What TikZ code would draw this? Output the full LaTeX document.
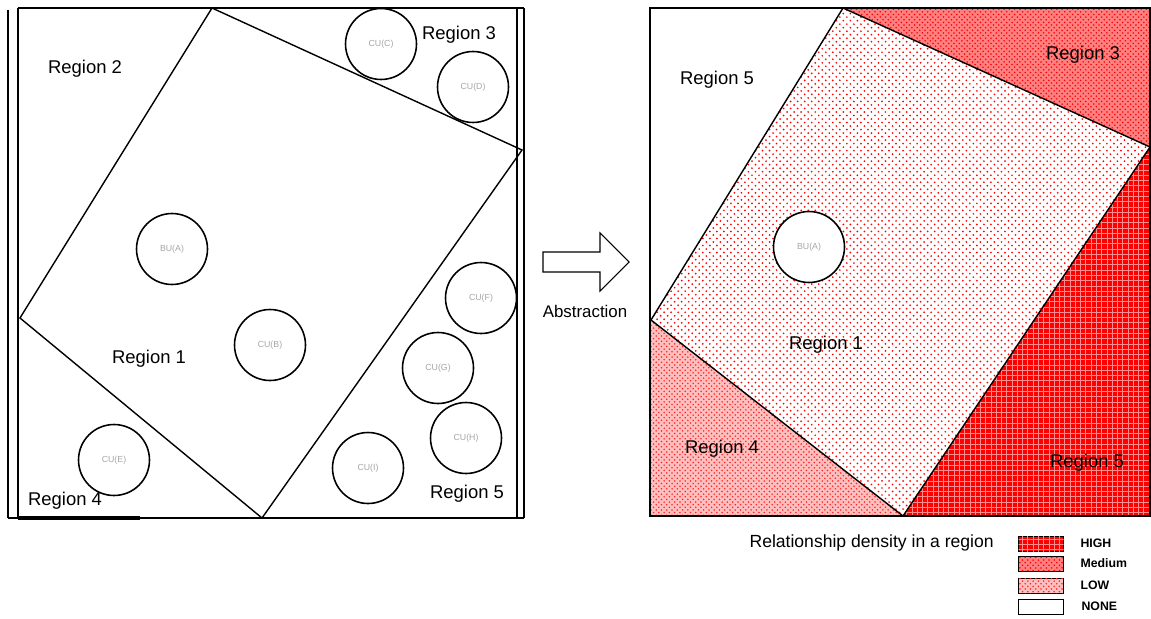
\documentclass[tikz,border=0pt]{standalone}
\usepackage{fontspec}
\setmainfont{Liberation Sans}
\usetikzlibrary{patterns,patterns.meta}

% loose staggered dots for the central square
\pgfdeclarepattern{
  name=loosedots,
  type=uncolored,
  bottom left={\pgfpoint{-1pt}{-1pt}},
  top right={\pgfpoint{5pt}{5pt}},
  tile size={\pgfpoint{4pt}{4pt}},
  code={
    \pgfpathcircle{\pgfpoint{0pt}{0pt}}{0.55pt}
    \pgfpathcircle{\pgfpoint{2pt}{2pt}}{0.55pt}
    \pgfusepath{fill}
  }
}

\tikzset{
  unit/.style={circle,draw,line width=0.9pt,minimum size=1.42cm,inner sep=0pt,
    font=\fontsize{5}{6}\selectfont,text=black!35},
  region/.style={font=\fontsize{10.5}{12}\selectfont},
  key/.style={font=\bfseries\fontsize{7}{8}\selectfont,anchor=west},
  keybox/.style={draw,line width=1.1pt,minimum width=0.9cm,minimum height=0.3cm,inner sep=0pt},
  high/.style={fill=red,postaction={pattern=grid,pattern color=white!55!red}},
  medium/.style={fill=red!50,postaction={pattern=crosshatch dots,pattern color=red}},
  low/.style={fill=red!25,postaction={pattern=crosshatch dots,pattern color=red!85}},
  sparse/.style={pattern=loosedots,pattern color=red},
}

\begin{document}
\begin{tikzpicture}[x=0.02cm,y=-0.02cm,line width=0.8pt]
  \useasboundingbox (0,0) rectangle (1151,618);

  % left panel: frame
  \draw (8,10) -- (8,518);
  \draw (18,8) -- (18,518);
  \draw (18,8) -- (524,8);
  \draw (517,8) -- (517,518);
  \draw (524,8) -- (524,518);
  \draw (8,518) -- (524,518);
  \draw[line width=1.8pt] (18,518) -- (140,518);

  % left panel: rotated square
  \coordinate (lt) at (212,8);
  \coordinate (lr) at (522,150);
  \coordinate (lb) at (262,518);
  \coordinate (ll) at (20,318);
  \draw (lt) -- (lr) -- (lb) -- (ll) -- cycle;

  \node[unit] (uc) at (381,44) {CU(C)};
  \node[unit] (ud) at (473,87) {CU(D)};
  \node[unit] (ua) at (172,249) {BU(A)};
  \node[unit] (ub) at (270,345) {CU(B)};
  \node[unit] (uf) at (481,298) {CU(F)};
  \node[unit] (ug) at (438,368) {CU(G)};
  \node[unit] (uh) at (466,438) {CU(H)};
  \node[unit] (ui) at (368,468) {CU(I)};
  \node[unit] (ue) at (114,460) {CU(E)};

  \node[region] (l2) at (85,69) {Region 2};
  \node[region] (l3) at (459,35) {Region 3};
  \node[region] (l1) at (149,359) {Region 1};
  \node[region] (l4) at (65,501) {Region 4};
  \node[region] (l5) at (467,494) {Region 5};

  % block arrow
  \draw[line width=0.6pt] (543,252) -- (600,252) -- (600,233) -- (629,262)
    -- (600,291) -- (600,272) -- (543,272) -- cycle;
  \node[font=\fontsize{9.6}{11}\selectfont] (abs) at (585,311) {Abstraction};

  % right panel: regions
  \coordinate (rt) at (843,8);
  \coordinate (rr) at (1150,147);
  \coordinate (rb) at (903,516);
  \coordinate (rl) at (651,320);
  \path[medium] (rt) -- (1150,8) -- (rr) -- cycle;
  \path[high] (rr) -- (1150,516) -- (rb) -- cycle;
  \path[low] (rl) -- (rb) -- (651,516) -- cycle;
  \path[sparse] (rt) -- (rr) -- (rb) -- (rl) -- cycle;
  \draw (rt) -- (rr) -- (rb) -- (rl) -- cycle;
  \draw[line width=1pt] (650,8) rectangle (1150,516);

  \node[unit,fill=white] (ra) at (809,247) {BU(A)};

  \node[region] (r5a) at (717,80) {Region 5};
  \node[region] (r3) at (1083,55) {Region 3};
  \node[region] (r1) at (826,345) {Region 1};
  \node[region] (r4) at (722,449) {Region 4};
  \node[region] (r5b) at (1087,463) {Region 5};

  % legend
  \node[font=\fontsize{10}{12}\selectfont,anchor=west] (cap) at (743,543)
    {Relationship density in a region};
  \node[keybox,high] (kh) at (1041,544) {};
  \node[keybox,medium] (km) at (1041,564) {};
  \node[keybox,low] (kl) at (1041,586) {};
  \node[keybox] (kn) at (1041,607) {};
  \node[key] (th) at (1074,543) {HIGH};
  \node[key] (tm) at (1074,563) {Medium};
  \node[key] (tl) at (1074,585) {LOW};
  \node[key] (tn) at (1075,606) {NONE};
\end{tikzpicture}
\end{document}
